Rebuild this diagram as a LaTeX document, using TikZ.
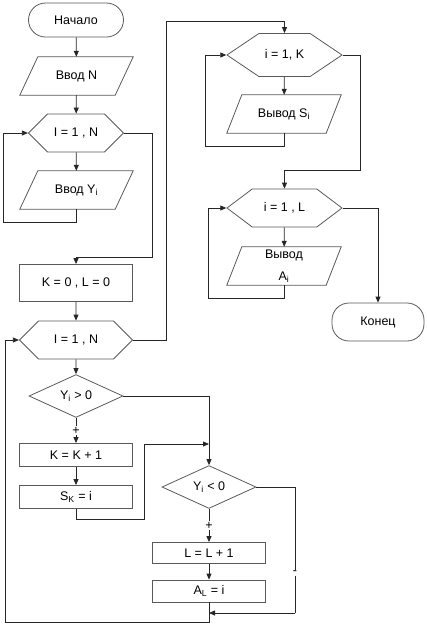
\documentclass[tikz,border=0pt]{standalone}
\usepackage{fontspec}
\setmainfont{Liberation Sans}
\usetikzlibrary{shapes,arrows.meta}

% parallelogram frame round a named io node
\newcommand{\ioframe}[2]{%
  \draw[outline] ([xshift=-#2pt]#1.south west) -- ([xshift=#2pt]#1.north west)
    -- ([xshift=#2pt]#1.north east) -- ([xshift=-#2pt]#1.south east) -- cycle;}

\begin{document}
\begin{tikzpicture}[x=1pt,y=-1pt,
        every node/.style={font=\fontsize{12.5}{15}\selectfont, inner sep=1pt},
        outline/.style={draw=black!65, line width=0.8pt},
        terminal/.style={outline, rectangle, rounded corners=17pt, minimum width=95pt, minimum height=34pt},
        iobox/.style={rectangle, minimum width=#1, minimum height=38pt},
        procbox/.style={outline, rectangle, minimum width=113pt, minimum height=#1},
        loopbox/.style={outline, signal, signal to=west and east, signal pointer angle=#1, minimum height=38pt},
        testbox/.style={outline, diamond, inner sep=0pt, minimum width=94pt, minimum height=#1},
        line/.style={draw=black!85, line width=0.8pt},
        arr/.style={line, -{Triangle[length=6pt,width=5pt]}},
        signlabel/.style={fill=white, inner sep=1pt}
    ]
        \useasboundingbox (0,0) rectangle (427,625);

        % left column
        \node[terminal] (start) at (76,20) {Начало};
        \node[iobox=95pt] (inN) at (76.5,76) {Ввод N};
        \node[loopbox=90, minimum width=95pt] (loopA) at (76,133) {I = 1 , N};
        \node[iobox=95pt] (inY) at (76.5,190) {Ввод Y\textsubscript{i}};
        \node[procbox=37pt] (init) at (76,283) {K = 0 , L = 0};
        \node[loopbox=90, minimum width=113pt] (loopB) at (76,340) {I = 1 , N};
        \node[testbox=34pt] (pos) at (76,396) {Y\textsubscript{i} > 0};
        \node[procbox=23pt] (incK) at (76,455) {K = K + 1};
        \node[procbox=23pt] (setS) at (76,497) {S\textsubscript{K} = i};
        \ioframe{inN}{9}
        \ioframe{inY}{9}

        % middle column
        \node[testbox=39pt] (neg) at (209,487) {Y\textsubscript{i} < 0};
        \node[procbox=21pt] (incL) at (209,553) {L = L + 1};
        \node[procbox=22pt] (setA) at (209,591) {A\textsubscript{L} = i};
        \coordinate (joinK) at (209,444);
        \coordinate (joinA) at (209,613);

        % right column
        \node[loopbox=68, minimum width=115pt, minimum height=43pt] (loopC) at (284.5,55) {i = 1, K};
        \node[iobox=99pt] (outS) at (284,114) {Вывод S\textsubscript{i}};
        \node[loopbox=74, minimum width=115pt] (loopD) at (284.5,208) {i = 1 , L};
        \node[iobox=99pt, align=center, font=\fontsize{12.5}{22}\selectfont] (outA) at (284,266) {Вывод\\A\textsubscript{i}};
        \node[terminal, minimum width=92pt, minimum height=38pt] (stop) at (378,322) {Конец};
        \ioframe{outS}{7.5}
        \ioframe{outA}{7.5}

        % input loop
        \draw[arr] (start) -- (inN);
        \draw[arr] (inN) -- (loopA);
        \draw[arr] (loopA) -- (inY);
        \draw[arr] (inY.south) |- (3,222) |- (loopA.west);
        \draw[arr] (loopA.east) -| (152,257) -| (init.north);
        \draw[arr] (init) -- (loopB);

        % sorting loop
        \draw[arr] (loopB) -- (pos);
        \draw[arr] (pos) -- node[signlabel] {+} (incK);
        \draw[arr] (pos.east) -| (neg.north);
        \draw[arr] (incK) -- (setS);
        \draw[arr] (setS.south) |- (144,519) |- (joinK);
        \draw[arr] (neg) -- node[signlabel] {+} (incL);
        \draw[arr] (incL) -- (setA);
        \draw[line] (neg.east) -| (295,613) coordinate (negturn);
        \node[signlabel] (minus) at (295,573) {-};
        \draw[arr] (negturn) -- (joinA);
        \draw[arr] (setA.south) |- (5,622) |- (loopB.west);

        % output loops
        \draw[arr] (loopB.east) -| (166,21) -| (loopC.north);
        \draw[arr] (loopC) -- (outS);
        \draw[arr] (outS.south) |- (205,146) |- (loopC.west);
        \draw[arr] (loopC.east) -| (360,170) -| (loopD.north);
        \draw[arr] (loopD) -- (outA);
        \draw[arr] (outA.south) |- (208,298) |- (loopD.west);
        \draw[arr] (loopD.east) -| (stop.north);
\end{tikzpicture}
\end{document}
